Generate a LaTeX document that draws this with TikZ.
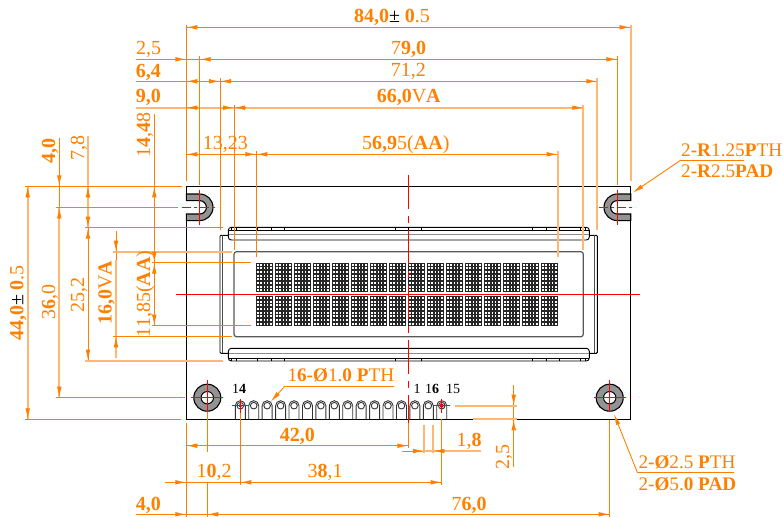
\documentclass[tikz,border=0pt]{standalone}
\usepackage{fontspec}
\setmainfont{Liberation Serif}
\usetikzlibrary{arrows.meta}
\definecolor{dimorange}{RGB}{255,128,0}
\definecolor{dimpale}{RGB}{255,184,115}
\newcommand\Bd[1]{\textbf{#1}}
\newcommand\DrawCell[2]{
  \fill[black!85] (#1,#2) rectangle ++(16.6,29.6);
  \foreach \HoleCol in {0,...,4}
    \foreach \HoleRow in {0,...,7}
      \fill[white] ({#1+1+3.15*\HoleCol},{#2+1.1+3.65*\HoleRow}) rectangle ++(1.7,1.9);
}
\tikzset{
  dimline/.style={draw=dimorange,line width=0.9pt},
  dimpaleline/.style={draw=dimpale,line width=1.7pt},
  dimtip/.style={draw=dimorange,line width=0.9pt,-{Latex[length=11pt,width=4.6pt]}},
  dimlabel/.style={font=\fontsize{20}{22}\selectfont,text=dimorange,anchor=base,inner sep=0pt},
  dimvlabel/.style={dimlabel,rotate=90},
  calloutlabel/.style={dimlabel,anchor=base west,font=\fontsize{19.2}{21}\selectfont},
  pinlabel/.style={font=\fontsize{14}{16}\selectfont,text=black,anchor=base,inner sep=0pt},
  centerline/.style={draw=red,line width=0.9pt},
  slot/.style={draw=black,line width=1.1pt,fill=gray!85},
}
\begin{document}
\begin{tikzpicture}[x=1pt,y=-1pt]
	\useasboundingbox (0,0) rectangle (783,517);

	% the board
	\draw[line width=0.9pt] (186.3,194) -- (186.3,186.3) -- (630.7,186.3) -- (630.7,194);
	\draw[line width=0.9pt] (186.3,221) -- (186.3,419.3) -- (630.7,419.3) -- (630.7,221);

	% the bezel
	\draw[line width=0.9pt,rounded corners=1pt] (220,235.3) rectangle (597.3,353.3);
	\draw[line width=0.9pt,black!70] (222.8,235.3) -- (222.8,353.3) (594.3,235.3) -- (594.3,353.3);

	% the two strips
	\filldraw[fill=white,line width=0.9pt,rounded corners=3pt]
	  (228.3,227.3) -- (589.3,227.3) -- (589.3,240) -- (228.3,240) -- cycle;
	\filldraw[fill=white,line width=0.9pt,rounded corners=3pt]
	  (228.3,361) -- (589.3,361) -- (589.3,348.3) -- (228.3,348.3) -- cycle;
	\draw[line width=0.9pt] (228.3,230.6) -- (589.3,230.6) (228.3,358) -- (589.3,358);
	\draw[line width=0.9pt,black!45] (229,234.7) -- (588.5,234.7) (229,353.3) -- (588.5,353.3);
	\foreach \x in {231,236.7,257.3,271,284.3,395,408.3,421.7,532.7,546,559.3,580.7,585}
	  \draw[line width=0.9pt] (\x,227.3) -- (\x,230.6) (\x,358) -- (\x,361);

	% the viewing area
	\draw[line width=1.2pt,black!65,rounded corners=2.5pt] (234,251.7) rectangle (583.3,336.7);

	% the characters
	\foreach \Col in {0,...,15}
	  \foreach \RowY in {262.7,296}{
	    \pgfmathsetmacro\CellX{256.3+19*\Col}
	    \DrawCell{\CellX}{\RowY}
	  }

	% the slots and holes
	\filldraw[slot] (186.3,194) -- (199.7,194) arc[start angle=-90,end angle=90,radius=13.3]
	  -- (186.3,220.6) -- (186.3,214) -- (199.7,214) arc[start angle=90,end angle=-90,radius=6.7]
	  -- (186.3,200.6) -- cycle;
	\filldraw[slot] (630.7,194) -- (617.3,194) arc[start angle=270,end angle=90,radius=13.3]
	  -- (630.7,220.6) -- (630.7,214) -- (617.3,214) arc[start angle=90,end angle=270,radius=6.7]
	  -- (630.7,200.6) -- cycle;
	\foreach \x in {207.3,609.7}{
	  \filldraw[slot] (\x,397.7) circle[radius=13.5];
	  \filldraw[draw=black,fill=white,line width=1pt] (\x,397.7) circle[radius=6.2];
	}

	% the pins
	\foreach \i in {0,...,15}{
	  \pgfmathsetmacro\PinX{240.3+13.43*\i}
	  \draw[line width=0.9pt,black!80] (\PinX-5,419.3) -- (\PinX-5,405.7)
	    arc[start angle=180,end angle=360,radius=5] -- (\PinX+5,419.3);
	  \draw[line width=0.9pt,black!80] (\PinX,405.7) circle[radius=3.3];
	}
	\fill[black] (240.3,405.7) circle[radius=1.8];
	\fill[red!85!black] (441.7,405.7) circle[radius=2];

	% the centre lines
	\draw[centerline,dash pattern=on 34pt off 7pt on 7pt off 7pt] (408.3,175) -- (408.3,423);
	\draw[centerline] (175.7,294) -- (640,294);
	\foreach \x/\y in {199.7/207.3,617.3/207.3}{
	  \draw[centerline,dash pattern=on 9pt off 3pt on 3pt off 3pt] (\x-18,\y) -- (\x+18,\y);
	  \draw[centerline] (\x,\y-17.5) -- (\x,\y+17.5);
	}
	\foreach \x/\y in {207.3/397.7,609.7/397.7}{
	  \draw[centerline] (\x-16,\y) -- (\x+16,\y);
	  \draw[centerline] (\x,\y-17.5) -- (\x,\y+14);
	}
	\foreach \x in {240.3,441.7}{
	  \draw[centerline] (\x-8.5,405.7) -- (\x+8.5,405.7);
	  \draw[centerline] (\x,399.3) -- (\x,412.7);
	}

	% horizontal dimensions at the top
	\draw[dimline] (186.3,27.3) -- (630.7,27.3);
	\draw[dimline] (135.7,59.3) -- (617.3,59.3);
	\draw[dimline] (135.7,81.3) -- (597.3,81.3);
	\draw[dimpaleline] (135.7,107.7) -- (583.3,107.7);
	\draw[dimline] (186.3,154.3) -- (557.7,154.3);

	% extension lines at the top
	\draw[dimpaleline] (630.7,25) -- (630.7,181);
	\draw[dimline] (186.3,25) -- (186.3,181);
	\draw[dimline] (199.7,56) -- (199.7,185) (617.3,56) -- (617.3,185);
	\draw[dimline] (220,78.3) -- (220,230);
	\draw[dimpaleline] (597.3,78.3) -- (597.3,230);
	\draw[dimline] (234,105) -- (234,250);
	\draw[dimpaleline] (583.3,105) -- (583.3,250);
	\draw[dimline] (256.3,151) -- (256.3,256.7);
	\draw[dimpaleline] (557.7,151) -- (557.7,256.7);

	% vertical dimensions at the left
	\draw[dimpaleline] (27.7,186.3) -- (27.7,419.3);
	\draw[dimline] (59.3,138.3) -- (59.3,207.3);
	\draw[dimpaleline] (59.3,207.3) -- (59.3,397.7);
	\draw[dimpaleline] (88,136) -- (88,227.7);
	\draw[dimline] (88,227.7) -- (88,360.7);
	\draw[dimline] (116,230.7) -- (116,260);
	\draw[dimpaleline] (116,260) -- (116,358.3);
	\draw[dimline] (154.3,114.3) -- (154.3,325.7);

	% extension lines at the left
	\draw[dimline] (25,186.3) -- (181.7,186.3);
	\draw[dimline] (25,419.3) -- (181,419.3);
	\draw[dimline] (56,207.3) -- (177.7,207.3);
	\draw[dimline] (56,397.7) -- (185,397.7);
	\draw[dimline] (85,227.7) -- (222.7,227.7);
	\draw[dimpaleline] (85,360.7) -- (222.7,360.7);
	\draw[dimpaleline] (113.3,251.7) -- (231.7,251.7);
	\draw[dimline] (113.3,336.3) -- (231.7,336.3);
	\draw[dimline] (151.7,262.7) -- (250.7,262.7);
	\draw[dimline] (151.7,325.7) -- (250.7,325.7);

	% dimensions at the bottom
	\draw[dimline] (186.3,445.7) -- (408.3,445.7);
	\draw[dimline] (165,482.3) -- (441.7,482.3);
	\draw[dimline] (135.7,514.3) -- (609.7,514.3);
	\draw[dimline] (402.3,451) -- (424,451);
	\draw[dimpaleline] (424,451) -- (480.7,451);
	\draw[dimline] (186.3,423.3) -- (186.3,517);
	\draw[dimline] (408.3,423) -- (408.3,448);
	\draw[dimline] (207.3,411.7) -- (207.3,451.7) (207.3,482.3) -- (207.3,517);
	\draw[dimline] (240.3,412.7) -- (240.3,485);
	\draw[dimline] (441.7,419.3) -- (441.7,485);
	\draw[dimline] (609.7,420) -- (609.7,517);
	\draw[dimpaleline] (424,425) -- (424,453.3) (433.3,425) -- (433.3,453.3);

	% the 2,5 at the pins
	\draw[dimline] (513.7,385) -- (513.7,466.7);
	\draw[dimpaleline] (455,405.7) -- (516.7,405.7);
	\draw[dimpaleline] (472.7,419.3) -- (516.7,419.3);

	% arrow heads
	\foreach \X/\Y/\DX/\DY in {
	  186.3/27.3/11/0,630.7/27.3/-11/0,
	  186.3/59.3/-11/0,199.7/59.3/11/0,617.3/59.3/-11/0,
	  186.3/81.3/11/0,220/81.3/-11/0,220/81.3/11/0,597.3/81.3/-11/0,
	  186.3/107.7/11/0,234/107.7/-11/0,234/107.7/11/0,583.3/107.7/-11/0,
	  186.3/154.3/11/0,256.3/154.3/-11/0,256.3/154.3/11/0,557.7/154.3/-11/0,
	  27.7/186.3/0/11,27.7/419.3/0/-11,
	  59.3/186.3/0/-11,59.3/207.3/0/11,59.3/397.7/0/-11,
	  88/186.3/0/11,88/227.7/0/-11,88/227.7/0/11,88/360.7/0/-11,
	  116/251.7/0/-11,116/336.3/0/11,
	  154.3/186.3/0/11,154.3/262.7/0/-11,154.3/262.7/0/11,154.3/325.7/0/-11,
	  186.3/445.7/11/0,408.3/445.7/-11/0,
	  186.3/482.3/-11/0,240.3/482.3/11/0,441.7/482.3/-11/0,
	  186.3/514.3/-11/0,207.3/514.3/11/0,609.7/514.3/-11/0,
	  424/451/-11/0,433.3/451/11/0,
	  513.7/405.7/0/-11,513.7/419.3/0/11}
	  \draw[dimtip] (\X,\Y) ++(\DX,\DY) -- (\X,\Y);

	% texts at the top
	\node[dimlabel] (total) at (392,22) {\Bd{84,0}\textcolor{black}{±} \Bd{0}.5};
	\node[dimlabel] (slotx) at (148.5,54.3) {2,5};
	\node[dimlabel] (slotspan) at (408.5,54.3) {7\Bd{9,0}};
	\node[dimlabel] (bezelx) at (148.3,77.3) {\Bd{6,4}};
	\node[dimlabel] (bezelw) at (408.3,76.7) {71,2};
	\node[dimlabel] (vax) at (148.3,102.7) {\Bd{9,0}};
	\node[dimlabel] (vaw) at (408.7,102.7) {\Bd{66,0}V\Bd{A}};
	\node[dimlabel] (aax) at (225.3,149.3) {13,23};
	\node[dimlabel] (aaw) at (405.8,149.3) {5\Bd{6,9}5(\Bd{AA})};

	% texts at the left
	\node[dimvlabel] (totalh) at (23.3,303) {\Bd{44,0}\textcolor{black}{±} \Bd{0}.5};
	\node[dimvlabel] (sloty) at (55,151) {\Bd{4,0}};
	\node[dimvlabel] (slotgap) at (55,302) {3\Bd{6},0};
	\node[dimvlabel] (bezely) at (84,148) {7,8};
	\node[dimvlabel] (bezelh) at (84,295) {25,2};
	\node[dimvlabel] (vah) at (111.7,293) {\Bd{16,0}V\Bd{A}};
	\node[dimvlabel] (aay) at (150,135) {1\Bd{4},\Bd{4}8};
	\node[dimvlabel] (aah) at (150,294) {11,85(\Bd{AA})};

	% texts at the bottom
	\node[dimlabel] (pcenter) at (297.3,441.7) {\Bd{42,0}};
	\node[dimlabel] (pinx) at (214,477.3) {1\Bd{0},2};
	\node[dimlabel] (pinspan) at (325,477.3) {3\Bd{8},1};
	\node[dimlabel] (holex) at (148.3,510) {\Bd{4,0}};
	\node[dimlabel] (holespan) at (469,510) {7\Bd{6,0}};
	\node[dimlabel] (pinw) at (469,446) {1,\Bd{8}};
	\node[dimvlabel] (piny) at (509,457) {2,5};

	% numbers at the pins
	\node[pinlabel] (pin14) at (239,393.5) {1\Bd{4}};
	\node[pinlabel] (pin1) at (417,393.5) {1};
	\node[pinlabel] (pin16) at (432,393.5) {1\Bd{6}};
	\node[pinlabel] (pin15) at (453,393.5) {15};

	% callouts
	\node[calloutlabel] (slotpth) at (681,156.7) {2\Bd{-R}1.25\Bd{P}TH};
	\node[calloutlabel] (slotpad) at (681,177.7) {2\Bd{-R}2.5\Bd{PAD}};
	\node[calloutlabel] (pinpth) at (287.3,381.7) {1\Bd{6-Ø}1.\Bd{0 P}TH};
	\node[calloutlabel] (holepth) at (638.3,468.3) {2\Bd{-Ø}2.5 \Bd{P}TH};
	\node[calloutlabel] (holepad) at (638.3,490) {2-\Bd{Ø}5.\Bd{0 PAD}};

	\coordinate (slotknee) at (681,160);
	\coordinate (slotend) at (744,160);
	\coordinate (slottip) at (632.7,192.7);
	\coordinate (pinknee) at (285,386);
	\coordinate (pinend) at (394,386);
	\coordinate (pintip) at (270.7,401.7);
	\coordinate (holeknee) at (637.3,472.3);
	\coordinate (holeend) at (734,472.3);
	\coordinate (holetip) at (614,414);

	\draw[dimline] (slotend) -- (slotknee);
	\draw[dimtip] (slotknee) -- (slottip);
	\draw[dimline] (pinend) -- (pinknee);
	\draw[dimtip] (pinknee) -- (pintip);
	\draw[dimline] (holeend) -- (holeknee);
	\draw[dimtip] (holeknee) -- (holetip);
\end{tikzpicture}
\end{document}
